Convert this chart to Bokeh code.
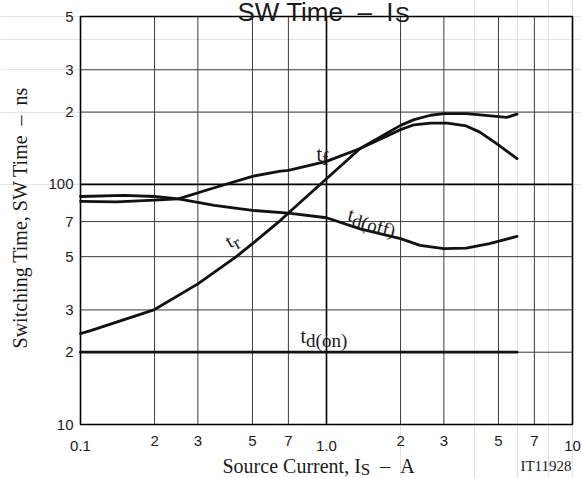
import math
from bokeh.plotting import figure
from bokeh.models import LogScale
from bokeh.core.properties import value
from bokeh.embed import file_html
from bokeh.resources import INLINE

# ---------------- data ----------------
is_tr = [0.1, 0.11, 0.2, 0.3, 0.43, 0.5, 0.65, 0.7, 1.0, 1.37, 2.0, 2.27, 2.65, 3.0, 3.7, 4.9, 5.4, 5.95]
t_r = [23.9, 24.6, 30.1, 38.5, 50.0, 56.6, 70.8, 76.0, 105.6, 141.0, 176.0, 186.0, 194.0, 197.0, 197.0, 192.0, 190.0, 196.0]

is_tf = [0.1, 0.14, 0.2, 0.25, 0.35, 0.5, 0.65, 0.7, 1.0, 1.37, 2.0, 2.27, 2.65, 3.1, 3.7, 4.2, 4.9, 5.95]
t_f = [85.0, 84.5, 86.0, 87.0, 96.8, 108.0, 113.5, 114.3, 124.7, 141.0, 169.0, 177.0, 180.0, 180.0, 175.0, 165.0, 148.0, 128.0]

is_tdoff = [0.1, 0.15, 0.2, 0.25, 0.35, 0.5, 0.7, 1.0, 1.37, 2.0, 2.4, 3.0, 3.7, 4.6, 5.95]
t_doff = [89.0, 90.0, 89.0, 87.0, 81.8, 77.9, 75.9, 72.6, 65.3, 59.4, 55.7, 54.0, 54.3, 56.6, 60.7]

is_tdon = [0.1, 5.95]
t_don = [20.0, 20.0]

x_minor_ticks = [0.2, 0.3, 0.5, 0.7, 2, 3, 5, 7]
x_minor_labels = ["2", "3", "5", "7", "2", "3", "5", "7"]
x_decade_ticks = [0.1, 1.0, 10]
x_decade_labels = ["0.1", "1.0", "10"]
y_ticks = [10, 20, 30, 50, 70, 100, 200, 300, 500]
y_labels = ["10", "2", "3", "5", "7", "100", "2", "3", "5"]
x_grid_minor = [0.2, 0.3, 0.5, 0.7, 2, 3, 5, 7]
x_grid_major = [1.0]
y_grid_minor = [20, 30, 50, 70, 200, 300]
y_grid_major = [100]

NB = "\u00a0"
x_title = ["Source Current, I", "S", NB * 2 + "\u2013" + NB * 2 + "A"]
y_title = "Switching Time, SW Time" + NB * 2 + "\u2013" + NB * 2 + "ns"
chart_title = ["SW Time" + NB * 2 + "\u2013" + NB * 2 + "I", "S"]
code_label = "IT11928"

# ---------------- geometry (canvas pixels) ----------------
CW, CH = 581, 478
FL, FR, FT, FB = 80, 572, 16, 424          # plotting box inside the canvas
X_LO, X_HI = x_decade_ticks[0], x_decade_ticks[-1]
Y_LO, Y_HI = y_ticks[0], y_ticks[-1]
XD = (FR - FL) / math.log10(X_HI / X_LO)
YD = (FB - FT) / math.log10(Y_HI / Y_LO)

def X(px):
    return X_LO * 10 ** ((px - FL) / XD)

def Y(py):
    return Y_LO * 10 ** ((FB - py) / YD)

p = figure(width=CW, height=CH, x_range=(X(0), X(CW)), y_range=(Y(CH), Y(0)),
           x_axis_location=None, y_axis_location=None,
           output_backend="svg", toolbar_location=None, min_border=0)
p.x_scale = LogScale()
p.y_scale = LogScale()
p.outline_line_color = None
p.background_fill_color = "white"
p.border_fill_color = "white"

# grid
GRID_MINOR = "#3c3c3c"
p.segment(x0=x_grid_minor, y0=[Y_LO] * len(x_grid_minor), x1=x_grid_minor, y1=[Y_HI] * len(x_grid_minor),
          line_color=GRID_MINOR, line_width=1)
p.segment(x0=[X_LO] * len(y_grid_minor), y0=y_grid_minor, x1=[X_HI] * len(y_grid_minor), y1=y_grid_minor,
          line_color=GRID_MINOR, line_width=1)
p.segment(x0=x_grid_major, y0=[Y_LO] * len(x_grid_major), x1=x_grid_major, y1=[Y_HI] * len(x_grid_major),
          line_color="black", line_width=1.6)
p.segment(x0=[X_LO] * len(y_grid_major), y0=y_grid_major, x1=[X_HI] * len(y_grid_major), y1=y_grid_major,
          line_color="black", line_width=1.6)
# frame
p.quad(left=[X_LO], right=[X_HI], bottom=[Y_LO], top=[Y_HI], fill_color=None,
       line_color="black", line_width=1.6)

# curves
for xs, ys in [(is_tdon, t_don), (is_tdoff, t_doff), (is_tf, t_f), (is_tr, t_r)]:
    p.line(xs, ys, line_color="#111111", line_width=2.8, line_join="round", line_cap="round")

SANS = "Liberation Sans"
SERIF = "Liberation Serif"
TXT = "#1a1a1a"

# tick labels
p.text(x=[X(FL - 7)] * len(y_ticks), y=y_ticks, text=y_labels, text_align="right", text_baseline="middle",
       text_font=value(SANS), text_font_size=value("15px"), text_color=TXT)
p.text(x=x_minor_ticks, y=[Y(FB + 16)] * len(x_minor_ticks), text=x_minor_labels, text_align="center",
       text_baseline="alphabetic", text_font=value(SANS), text_font_size=value("15px"), text_color=TXT)
p.text(x=x_decade_ticks, y=[Y(FB + 21)] * len(x_decade_ticks), text=x_decade_labels, text_align="center",
       text_baseline="alphabetic", text_font=value(SANS), text_font_size=value("15px"), text_color=TXT)

# composite texts (subscripts), positions in canvas px of the baseline start
W_SERIF = {'S': .556, 'o': .5, 'u': .5, 'r': .333, 'c': .444, 'e': .444, ' ': .25, NB: .25, 'C': .667,
           'n': .5, 't': .278, ',': .25, 'I': .333, '\u2013': .5, 'A': .722, 'd': .5, '(': .333, ')': .333,
           'f': .333}
W_SANS = {'S': .667, 'W': .944, ' ': .278, NB: .278, 'T': .611, 'i': .222, 'm': .833, 'e': .556,
          '\u2013': .556, 'I': .278}

def place(px, py, segs, angle_deg, size, font=SERIF, widths=W_SERIF):
    a = math.radians(angle_deg)
    u = 0.0
    for text, scale, drop in segs:
        fs = size * scale
        sx = px + u * math.cos(a) + drop * math.sin(a)
        sy = py - u * math.sin(a) + drop * math.cos(a)
        p.text(x=[X(sx)], y=[Y(sy)], text=[text], angle=a, text_font=value(font),
               text_font_size=value(f"{fs:.1f}px"), text_color=TXT,
               text_baseline="alphabetic", text_align="left")
        u += sum(widths.get(c, .5) for c in text) * fs

# curve labels
place(316, 153, [("t", 1, 0), ("f", 0.95, 5)], 0, 20)
place(348, 213, [("t", 1, 0), ("d(off)", 0.95, 5)], -15, 20)
place(300, 335, [("t", 1, 0), ("d(on)", 0.95, 5)], 0, 20)
place(226, 242, [("t", 1, 0), ("r", 0.95, 5)], 30, 20)

# axis titles
place(222, 465, [(x_title[0], 1, 0), (x_title[1], 0.85, 4), (x_title[2], 1, 0)], 0, 20)
p.text(x=[X(571)], y=[Y(465)], text=[code_label], text_align="right", text_baseline="alphabetic",
       text_font=value(SERIF), text_font_size=value("15px"), text_color=TXT)
p.text(x=[X(19)], y=[Y(217)], text=[y_title], angle=math.pi / 2, text_align="center",
       text_baseline="middle", text_font=value(SERIF), text_font_size=value("20px"), text_color=TXT)

# chart title, cut at the top as in the reference
place(237, 11, [(chart_title[0], 1, 0), (chart_title[1], 0.85, 3)], 0, 26, font=SANS, widths=W_SANS)

open("out.html", "w").write(file_html(p, INLINE))
